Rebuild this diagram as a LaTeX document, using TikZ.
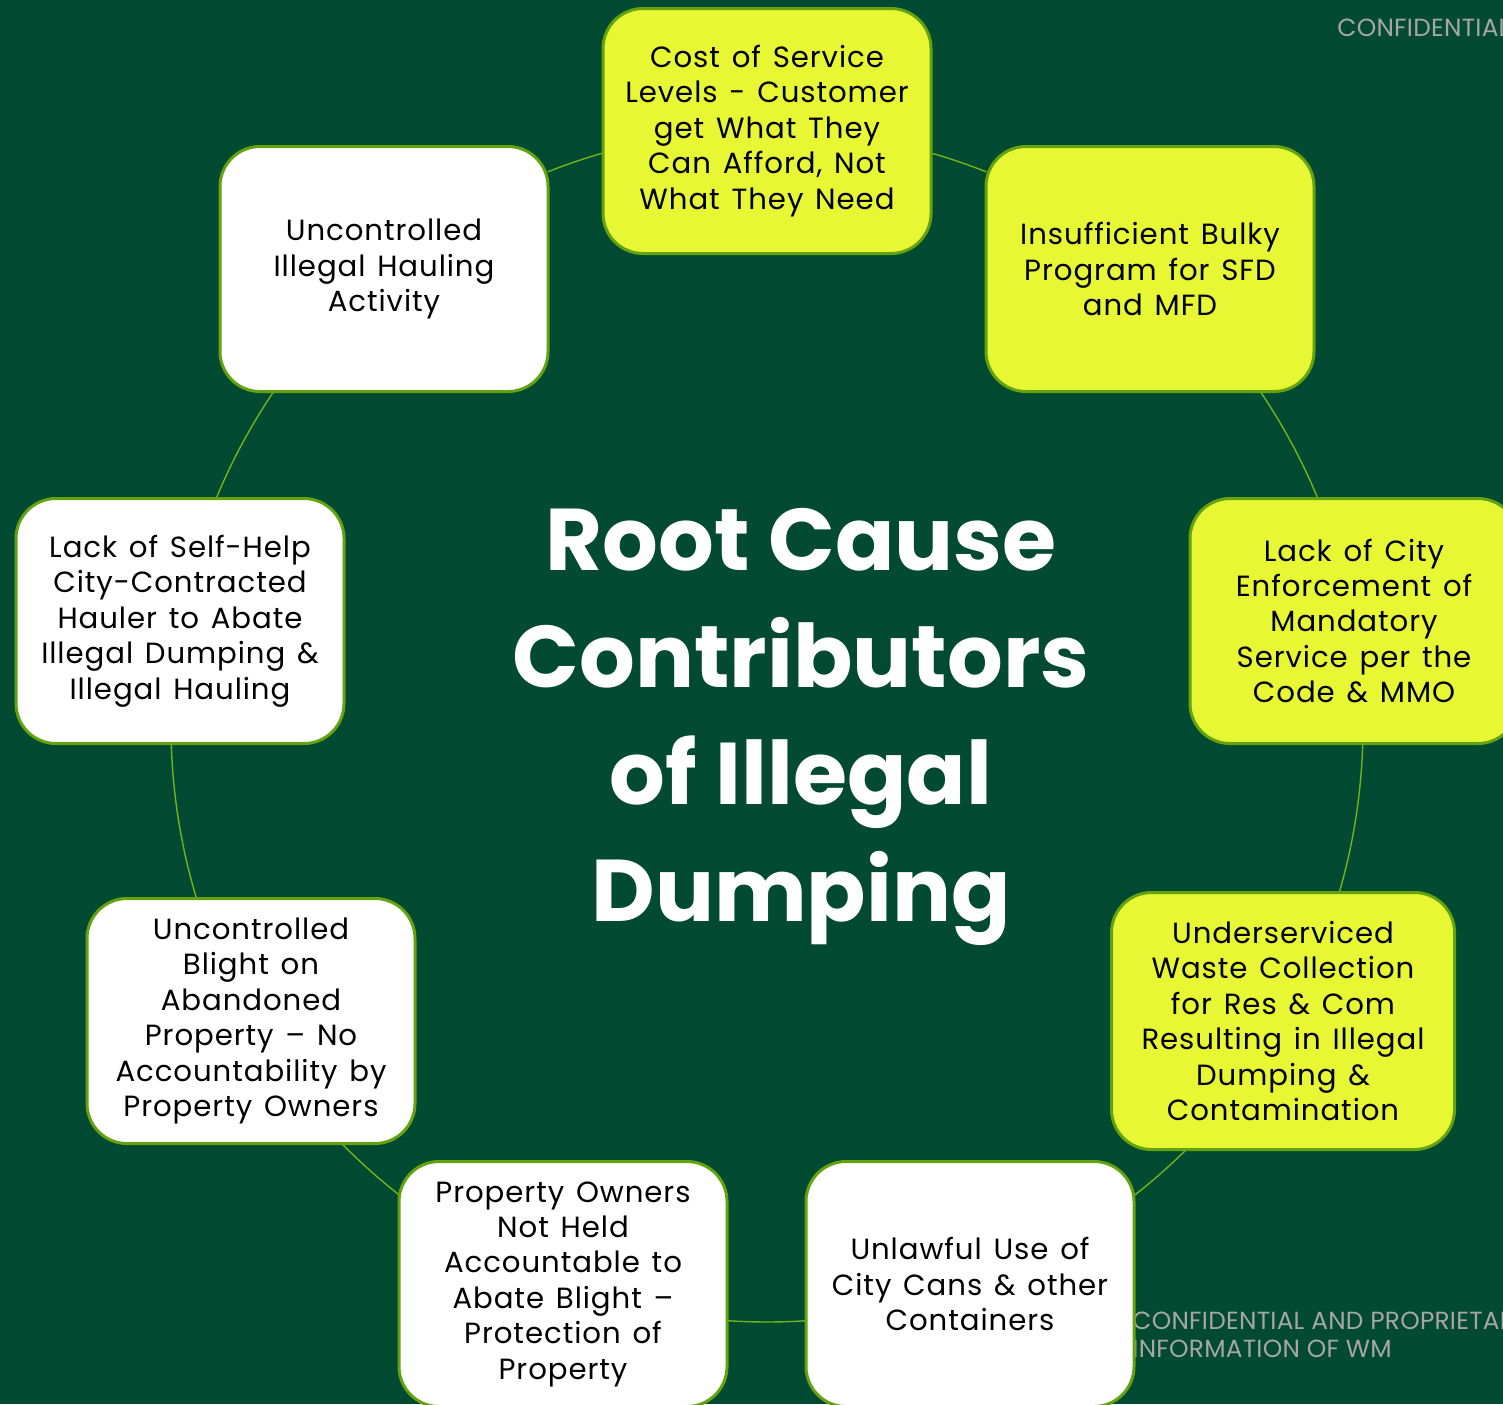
\documentclass[tikz,border=0pt]{standalone}
\usepackage{fontspec}
\usetikzlibrary{calc}
\setmainfont{Poppins}
\newfontfamily\boxfont{Poppins}[LetterSpace=3.2, WordSpace=1.35]
\newfontfamily\conffont{Poppins}[LetterSpace=1]
\definecolor{bgc}{HTML}{024A32}
\definecolor{lime}{HTML}{E8F733}
\definecolor{edgec}{HTML}{64A30F}
\definecolor{linkc}{HTML}{72B51A}
\definecolor{confc}{HTML}{A6A6A6}
\tikzset{
  box/.style={draw=edgec, line width=1.5pt, rounded corners=20pt,
    minimum width=164pt, minimum height=122.5pt, align=center,
    inner sep=0pt, font=\boxfont\fontsize{14.6}{17.7}\selectfont, text=black},
  ybox/.style={box, fill=lime},
  wbox/.style={box, fill=white},
  link/.style={draw=linkc, line width=0.7pt},
  conf/.style={text=confc, font=\conffont\fontsize{12.4}{14}\selectfont, align=left, inner sep=0pt}
}
\begin{document}
\begin{tikzpicture}[x=0.5pt,y=0.5pt]
\useasboundingbox (0,0) rectangle (1503,-1404);
\clip (0,0) rectangle (1503,-1404);
\fill[bgc] (0,0) rectangle (1503,-1404);

\node[conf, anchor=west] (confA) at (1337,-28) {CONFIDENTIAL};
\node[conf, anchor=west] (confB) at (1132,-1335) {CONFIDENTIAL AND PROPRIETARY\\INFORMATION OF WM};

% circle on which the boxes sit
\coordinate (ctr) at (767,-726);
\def\rad{596}

% connectors: arcs of the circle from box border to box border
\coordinate (a12) at ($(ctr)+(74.0:\rad)$);
\coordinate (a23) at ($(ctr)+(34.1:\rad)$);
\coordinate (a34) at ($(ctr)+(-1.7:\rad)$);
\coordinate (a45) at ($(ctr)+(-45.3:\rad)$);
\coordinate (a56) at ($(ctr)+(-86.25:\rad)$);
\coordinate (a67) at ($(ctr)+(-128.1:\rad)$);
\coordinate (a78) at ($(ctr)+(-163.2:\rad)$);
\coordinate (a89) at ($(ctr)+(157.6:\rad)$);
\coordinate (a91) at ($(ctr)+(111.6:\rad)$);
\draw[link] (a12) arc[start angle=74.0, end angle=68.4, radius=\rad];
\draw[link] (a23) arc[start angle=34.1, end angle=22.4, radius=\rad];
\draw[link] (a34) arc[start angle=-1.7, end angle=-16.2, radius=\rad];
\draw[link] (a45) arc[start angle=-45.3, end angle=-52.0, radius=\rad];
\draw[link] (a56) arc[start angle=-86.25, end angle=-93.85, radius=\rad];
\draw[link] (a67) arc[start angle=-128.1, end angle=-135.5, radius=\rad];
\draw[link] (a78) arc[start angle=-163.2, end angle=-178.3, radius=\rad];
\draw[link] (a89) arc[start angle=157.6, end angle=145.9, radius=\rad];
\draw[link] (a91) arc[start angle=111.6, end angle=106.0, radius=\rad];

\node[ybox] (n1) at (767,-131) {Cost of Service\\Levels - Customer\\get What They\\Can Afford, Not\\What They Need};
\node[ybox] (n2) at (1150,-269) {Insufficient Bulky\\Program for SFD\\and MFD};
\node[ybox] (n3) at (1354,-621) {Lack of City\\Enforcement of\\Mandatory\\Service per the\\Code \& MMO};
\node[ybox, minimum width=171.5pt, minimum height=128.5pt] (n4) at (1283,-1021) {Underserviced\\Waste Collection\\for Res \& Com\\Resulting in Illegal\\Dumping \&\\Contamination};
\node[wbox] (n5) at (970,-1284) {Unlawful Use of\\City Cans \& other\\Containers};
\node[wbox] (n6) at (563,-1284) {Property Owners\\Not Held\\Accountable to\\Abate Blight –\\Protection of\\Property};
\node[wbox] (n7) at (251,-1021) {Uncontrolled\\Blight on\\Abandoned\\Property – No\\Accountability by\\Property Owners};
\node[wbox] (n8) at (180,-621) {Lack of Self-Help\\City-Contracted\\Hauler to Abate\\Illegal Dumping \&\\Illegal Hauling};
\node[wbox] (n9) at (384,-269) {Uncontrolled\\Illegal Hauling\\Activity};

\node[text=white, font=\fontsize{43.8}{58.5}\bfseries\selectfont, align=center, inner sep=0pt] (title) at (801,-727) {Root Cause\\Contributors\\of Illegal\\Dumping};
\end{tikzpicture}
\end{document}
